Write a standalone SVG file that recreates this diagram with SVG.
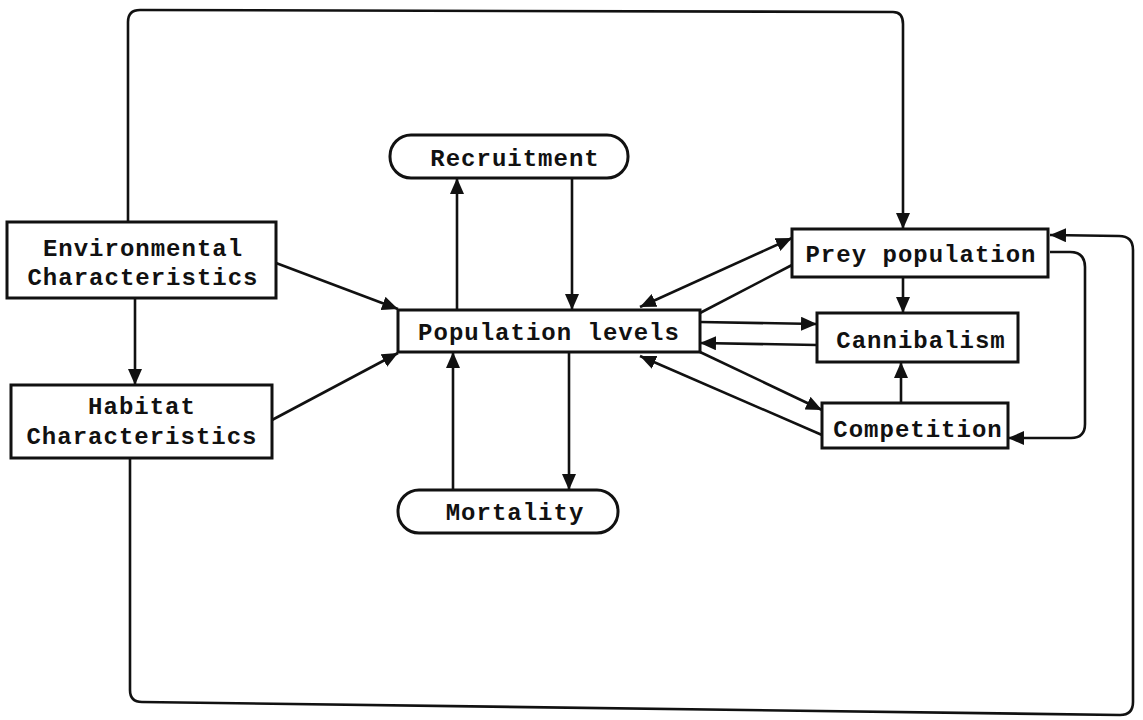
<svg xmlns="http://www.w3.org/2000/svg" width="1143" height="720" viewBox="0 0 1143 720">
<style>
.box{fill:#fff;stroke:#111;stroke-width:3}
.t{font-family:"Liberation Mono","DejaVu Sans Mono",monospace;font-size:24px;font-weight:bold;letter-spacing:1px;fill:#111;text-anchor:middle}
.c{fill:none;stroke:#111;stroke-width:2.6}
.a{marker-end:url(#ah)}
.b{marker-start:url(#ahs);marker-end:url(#ah)}
</style>
<defs>
<marker id="ah" markerUnits="userSpaceOnUse" markerWidth="18" markerHeight="14" refX="16" refY="7" orient="auto">
<path d="M0,0 L16,7 L0,14 Z" fill="#111"/>
</marker>
<marker id="ahs" markerUnits="userSpaceOnUse" markerWidth="18" markerHeight="14" refX="16" refY="7" orient="auto-start-reverse">
<path d="M0,0 L16,7 L0,14 Z" fill="#111"/>
</marker>
</defs>
<rect width="1143" height="720" fill="#fff"/>
<g id="connectors">
<path class="c" d="M128,222 V22 Q128,10 140,10 L893,12 Q903,12 903,24 V229" marker-end="url(#ah)"/>
<path class="c" d="M130,458 V690 Q130,702 142,702 L1120,715 Q1133,715 1133,702 V250 Q1133,236 1119,236 L1050,235" marker-end="url(#ah)"/>
<path class="c a" d="M135,298 V385"/>
<path class="c a" d="M276,263 L398,309"/>
<path class="c a" d="M272,420 L398,353"/>
<path class="c a" d="M457,310 V178"/>
<path class="c a" d="M572,178 V310"/>
<path class="c a" d="M453,490 V352"/>
<path class="c a" d="M569,352 V490"/>
<path class="c b" d="M640,307 L792,238"/>
<path class="c" d="M700,313 L792,265"/>
<path class="c a" d="M700,322 L817,324"/>
<path class="c a" d="M817,345 L700,343"/>
<path class="c a" d="M700,352 L822,410"/>
<path class="c a" d="M822,435 L640,356"/>
<path class="c a" d="M903,278 V313"/>
<path class="c a" d="M901,403 V362"/>
<path class="c" d="M1050,252 L1070,252 Q1085,252 1085,267 V424 Q1085,438 1071,438 L1008,438" marker-end="url(#ah)"/>
</g>
<g id="env">
<rect class="box" x="7" y="222" width="269" height="76"/>
<text class="t" x="143" y="256">Environmental</text>
<text class="t" x="143" y="285">Characteristics</text>
</g>
<g id="habitat">
<rect class="box" x="11" y="385" width="261" height="73"/>
<text class="t" x="142" y="414">Habitat</text>
<text class="t" x="142" y="444">Characteristics</text>
</g>
<g id="recruitment">
<rect class="box" x="390" y="135" width="238" height="43" rx="21"/>
<text class="t" x="515" y="166">Recruitment</text>
</g>
<g id="poplevels">
<rect class="box" x="398" y="310" width="302" height="42"/>
<text class="t" x="549" y="340">Population levels</text>
</g>
<g id="mortality">
<rect class="box" x="398" y="490" width="220" height="43" rx="21"/>
<text class="t" x="515" y="520">Mortality</text>
</g>
<g id="prey">
<rect class="box" x="792" y="229" width="256" height="48"/>
<text class="t" x="921" y="262">Prey population</text>
</g>
<g id="cannibalism">
<rect class="box" x="817" y="313" width="201" height="49"/>
<text class="t" x="921" y="348">Cannibalism</text>
</g>
<g id="competition">
<rect class="box" x="822" y="403" width="186" height="45"/>
<text class="t" x="918" y="437">Competition</text>
</g>
</svg>
